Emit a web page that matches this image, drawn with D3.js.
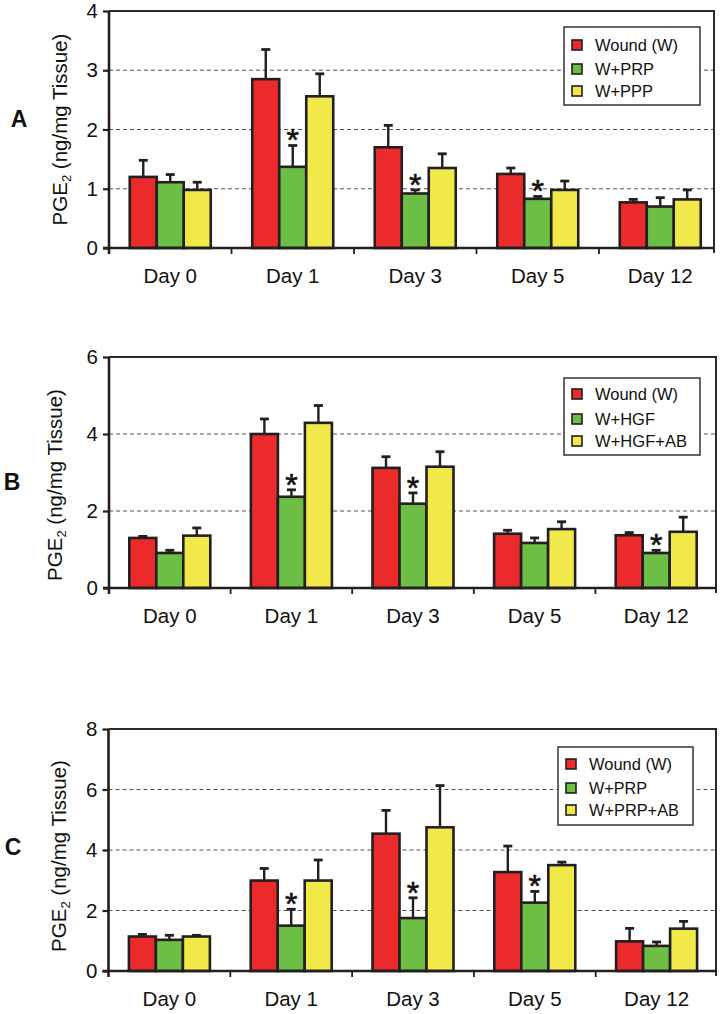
<!DOCTYPE html>
<html>
<head>
<meta charset="utf-8">
<script src="https://cdn.jsdelivr.net/npm/d3@7"></script>
<style>
  html, body { margin: 0; padding: 0; background: #fff; }
  svg { display: block; font-family: "Liberation Sans", Arial, sans-serif; }
</style>
</head>
<body>
<svg id="chart" width="722" height="1014"></svg>
<script>
// ---------- DATA ----------
const days = ["Day 0", "Day 1", "Day 3", "Day 5", "Day 12"];

// Panel A
const seriesNamesA = ["Wound (W)", "W+PRP", "W+PPP"];
const woundA    = [1.20, 2.85, 1.70, 1.25, 0.77];
const woundAErr = [0.28, 0.50, 0.37, 0.10, 0.05];
const prpA      = [1.11, 1.37, 0.92, 0.83, 0.70];
const prpAErr   = [0.13, 0.36, 0.06, 0.04, 0.15];
const pppA      = [0.98, 2.56, 1.35, 0.98, 0.82];
const pppAErr   = [0.13, 0.38, 0.24, 0.15, 0.16];
const starsA    = ["Day 1", "Day 3", "Day 5"];
const yTicksA   = [0, 1, 2, 3, 4];

// Panel B
const seriesNamesB = ["Wound (W)", "W+HGF", "W+HGF+AB"];
const woundB    = [1.30, 4.00, 3.12, 1.41, 1.37];
const woundBErr = [0.04, 0.39, 0.29, 0.09, 0.07];
const hgfB      = [0.91, 2.37, 2.19, 1.17, 0.91];
const hgfBErr   = [0.07, 0.18, 0.28, 0.13, 0.07];
const hgfAbB    = [1.36, 4.29, 3.15, 1.53, 1.46];
const hgfAbBErr = [0.20, 0.45, 0.39, 0.19, 0.38];
const starsB    = ["Day 1", "Day 3", "Day 12"];
const yTicksB   = [0, 2, 4, 6];

// Panel C
const seriesNamesC = ["Wound (W)", "W+PRP", "W+PRP+AB"];
const woundC    = [1.14, 2.99, 4.54, 3.27, 0.98];
const woundCErr = [0.07, 0.40, 0.77, 0.86, 0.43];
const prpC      = [1.03, 1.50, 1.75, 2.26, 0.83];
const prpCErr   = [0.15, 0.54, 0.67, 0.37, 0.13];
const prpAbC    = [1.14, 2.99, 4.75, 3.50, 1.40];
const prpAbCErr = [0.04, 0.68, 1.38, 0.10, 0.24];
const starsC    = ["Day 1", "Day 3", "Day 5"];
const yTicksC   = [0, 2, 4, 6, 8];

const colors = ["#ea2a2b", "#6cbe45", "#f1e94a"];
const ink = "#231f20";

// ---------- DRAW ----------
const svg = d3.select("#chart");
const FONT = "Liberation Sans, Arial, sans-serif";

function drawPanel(p) {
  const g = svg.append("g");
  const x = d3.scaleBand().domain(days).range([p.left, p.left + p.step * days.length]).paddingInner(0).paddingOuter(0);
  const groupW = 81;
  const xs = d3.scaleBand().domain([0, 1, 2]).range([0, groupW]).padding(0);
  const y = d3.scaleLinear().domain([0, d3.max(p.yTicks)]).range([p.bottom, p.top]);

  // gridlines
  g.append("g").selectAll("line")
    .data(p.yTicks.filter(t => t > 0 && t < d3.max(p.yTicks)))
    .join("line")
    .attr("x1", p.left).attr("x2", p.right)
    .attr("y1", d => y(d)).attr("y2", d => y(d))
    .attr("stroke", "#555").attr("stroke-width", 1.2)
    .attr("stroke-dasharray", "4,3");

  // frame top and right
  g.append("path")
    .attr("d", `M${p.left},${p.top}H${p.right}V${p.bottom + 5}`)
    .attr("fill", "none").attr("stroke", "#2a2a2a").attr("stroke-width", 2);

  // legend
  const lg = g.append("g");
  lg.append("rect")
    .attr("x", p.legend.x).attr("y", p.legend.y)
    .attr("width", p.legend.w).attr("height", p.legend.h)
    .attr("fill", "#fff").attr("stroke", "#333").attr("stroke-width", 1.5);
  p.names.forEach((nm, i) => {
    const cy = p.legend.y + p.legend.rows[i];
    lg.append("rect")
      .attr("x", p.legend.x + 8).attr("y", cy - 5)
      .attr("width", 10).attr("height", 10)
      .attr("fill", colors[i]).attr("stroke", ink).attr("stroke-width", 1.6);
    lg.append("text")
      .attr("x", p.legend.x + 31).attr("y", cy + 6)
      .attr("font-size", 17).attr("fill", "#111")
      .attr("textLength", p.legend.tl[i]).attr("lengthAdjust", "spacingAndGlyphs")
      .text(nm);
  });

  // bars + error bars
  p.series.forEach((s, si) => {
    const data = days.map((d, i) => ({ day: d, v: s.values[i], e: s.errs[i] }));
    const bx = d => x(d.day) + (x.bandwidth() - groupW) / 2 + xs(si);
    const eg = g.append("g");
    eg.selectAll("line.v").data(data).join("line")
      .attr("x1", d => bx(d) + xs.bandwidth() / 2).attr("x2", d => bx(d) + xs.bandwidth() / 2)
      .attr("y1", d => y(d.v)).attr("y2", d => y(d.v + d.e))
      .attr("stroke", ink).attr("stroke-width", 2.4);
    eg.selectAll("line.c").data(data).join("line")
      .attr("x1", d => bx(d) + xs.bandwidth() / 2 - 4.5).attr("x2", d => bx(d) + xs.bandwidth() / 2 + 4.5)
      .attr("y1", d => y(d.v + d.e)).attr("y2", d => y(d.v + d.e))
      .attr("stroke", ink).attr("stroke-width", 2.8);
    g.append("g").selectAll("rect").data(data).join("rect")
      .attr("x", d => bx(d)).attr("width", xs.bandwidth())
      .attr("y", d => y(d.v)).attr("height", d => y(0) - y(d.v))
      .attr("fill", colors[si]).attr("stroke", ink).attr("stroke-width", 2.6);
    if (si === 1) {
      g.append("g").selectAll("text").data(data.filter(d => p.stars.includes(d.day))).join("text")
        .attr("x", d => bx(d) + xs.bandwidth() / 2)
        .attr("y", d => y(d.v + d.e) + 6)
        .attr("text-anchor", "middle").attr("font-size", 32).attr("fill", "#111")
        .attr("stroke", "#111").attr("stroke-width", 0.6)
        .text("*");
    }
  });

  // y axis
  const ya = g.append("g").attr("transform", `translate(${p.left},0)`)
    .call(d3.axisLeft(y).tickValues(p.yTicks).tickFormat(d3.format("d")).tickSize(6).tickPadding(5));
  ya.select(".domain").remove();
  ya.selectAll(".tick line").attr("stroke", ink).attr("stroke-width", 2.2);
  ya.selectAll(".tick text").attr("font-size", 20.5).attr("fill", "#111").attr("font-family", FONT);
  g.append("line").attr("x1", p.left).attr("x2", p.left).attr("y1", p.top).attr("y2", p.bottom + 6)
    .attr("stroke", ink).attr("stroke-width", 2.6);

  // x axis
  g.append("line").attr("x1", p.left - 6).attr("x2", p.right).attr("y1", p.bottom).attr("y2", p.bottom)
    .attr("stroke", ink).attr("stroke-width", 2.6);
  g.append("g").selectAll("line").data(days.slice(1)).join("line")
    .attr("x1", d => x(d)).attr("x2", d => x(d))
    .attr("y1", p.bottom).attr("y2", p.bottom + 6)
    .attr("stroke", ink).attr("stroke-width", 1.8);
  const xa = g.append("g").attr("transform", `translate(0,${p.bottom})`)
    .call(d3.axisBottom(x).tickSize(0).tickPadding(20));
  xa.select(".domain").remove();
  xa.selectAll(".tick text").attr("font-size", 20.5).attr("fill", "#111").attr("font-family", FONT);

  // y title
  const t = g.append("text")
    .attr("transform", `translate(${p.titleX},${p.titleY}) rotate(-90)`)
    .attr("text-anchor", "middle").attr("font-size", 20.5).attr("fill", "#111");
  t.append("tspan").text("PGE");
  t.append("tspan").attr("font-size", 13).attr("dy", 4).text("2");
  t.append("tspan").attr("dy", -4).text(" (ng/mg Tissue)");

  // panel label
  g.append("text").attr("x", p.labelX).attr("y", p.labelY)
    .attr("text-anchor", "middle").attr("font-size", 23).attr("font-weight", "bold").attr("fill", "#111")
    .text(p.label);
}

drawPanel({
  label: "A", labelX: 19, labelY: 127,
  left: 109, right: 714, top: 11, bottom: 248, step: 122.5,
  yTicks: yTicksA, names: seriesNamesA, stars: starsA,
  series: [{ values: woundA, errs: woundAErr }, { values: prpA, errs: prpAErr }, { values: pppA, errs: pppAErr }],
  legend: { x: 564, y: 27, w: 136, h: 78, rows: [18, 42, 64], tl: [83, 59, 58] },
  titleX: 67, titleY: 129.5
});
drawPanel({
  label: "B", labelX: 12, labelY: 490,
  left: 109, right: 716, top: 357, bottom: 588, step: 121.6,
  yTicks: yTicksB, names: seriesNamesB, stars: starsB,
  series: [{ values: woundB, errs: woundBErr }, { values: hgfB, errs: hgfBErr }, { values: hgfAbB, errs: hgfAbBErr }],
  legend: { x: 564, y: 378, w: 136, h: 77, rows: [16, 41, 63], tl: [83, 60, 92] },
  titleX: 62, titleY: 485
});
drawPanel({
  label: "C", labelX: 13, labelY: 855,
  left: 108.5, right: 716, top: 729, bottom: 971, step: 121.8,
  yTicks: yTicksC, names: seriesNamesC, stars: starsC,
  series: [{ values: woundC, errs: woundCErr }, { values: prpC, errs: prpCErr }, { values: prpAbC, errs: prpAbCErr }],
  legend: { x: 558, y: 747, w: 135, h: 78, rows: [17, 41, 63], tl: [83, 58, 90] },
  titleX: 66, titleY: 856
});
</script>
</body>
</html>
